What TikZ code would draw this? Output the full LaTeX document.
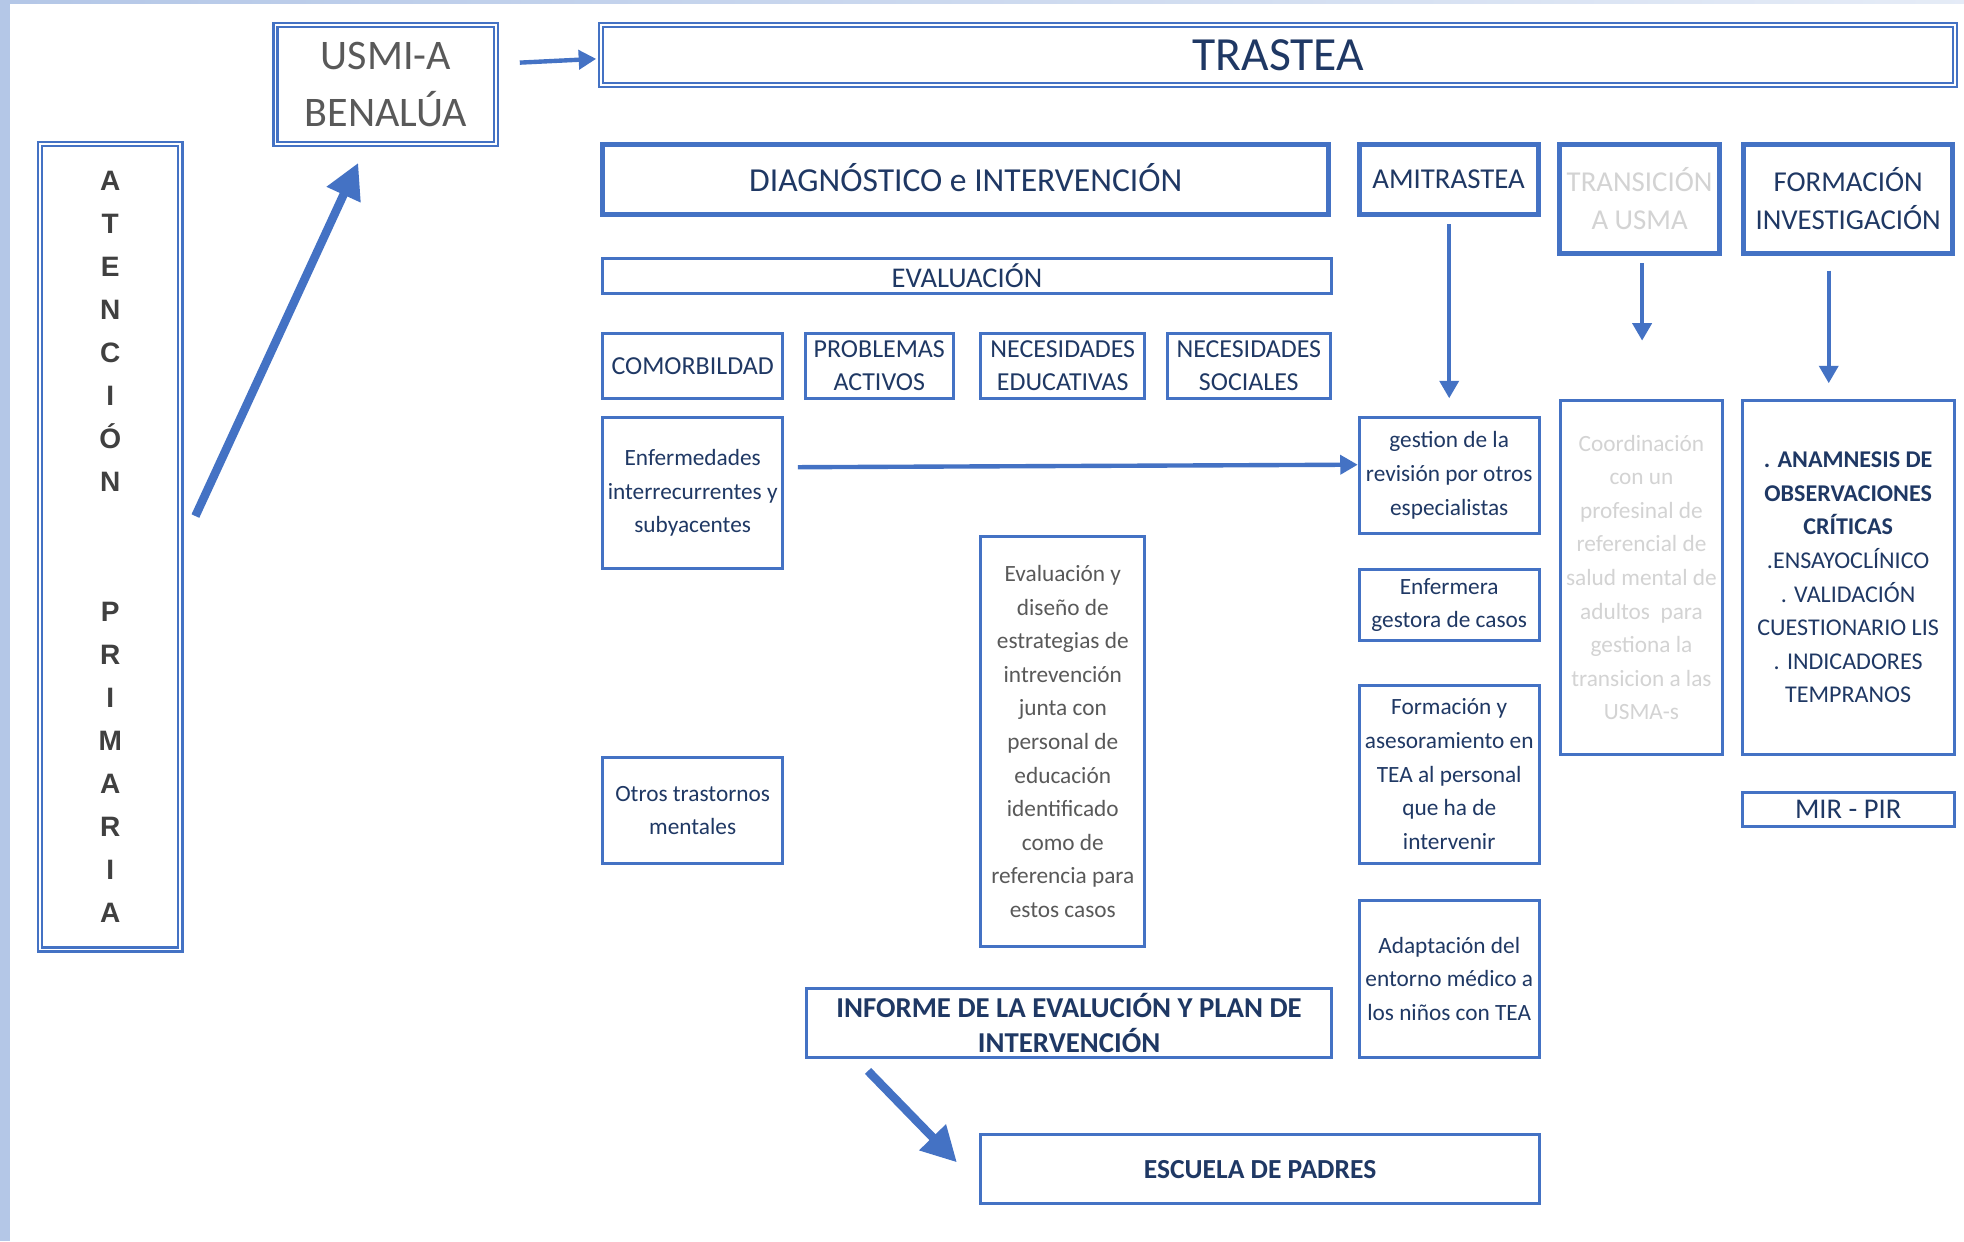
\documentclass[tikz,border=0pt]{standalone}
\usepackage{fontspec}
\setmainfont{Carlito}
\newfontfamily\apfont{Liberation Sans}
\usetikzlibrary{arrows.meta,calc}
\definecolor{bl}{HTML}{4472C4}
\definecolor{navy}{HTML}{1F3864}
\definecolor{gr}{HTML}{595959}
\definecolor{dg}{HTML}{404040}
\definecolor{lg}{HTML}{D3D3D3}
\definecolor{stripe}{HTML}{B4C7E7}
\newcommand\fsmall{\fontsize{9.3}{13.4}\selectfont}
\newcommand\fcap{\fontsize{10.35}{13.5}\selectfont}
\newcommand\fhead{\fontsize{11.5}{15}\selectfont}
\newcommand\mybox[7]{%
  \pgfmathsetmacro\bw{(#4-#2)*0.5}%
  \pgfmathsetmacro\bh{(#5-#3)*0.5}%
  \node[#6, minimum width=\bw pt, minimum height=\bh pt] (#1) at ({(#2+#4)/2},{(#3+#5)/2}) {#7};}
\tikzset{
  base/.style={draw=bl, rectangle, inner sep=0pt, outer sep=0pt, align=center, text=navy},
  thinbox/.style={base, line width=1.2pt},
  thickbox/.style={base, line width=2pt},
  dblbox/.style={base, double=white, line width=0.9pt, double distance=0.7pt},
  arr/.style={draw=bl, line width=1.75pt, -{Triangle[length=7pt,width=7.5pt]}},
  bigarr/.style={draw=bl, line width=3.4pt, -{Triangle[length=14pt,width=14pt]}},
}
\begin{document}
\begin{tikzpicture}[x=0.5pt,y=-0.5pt]
\useasboundingbox (0,0) rectangle (1568,991);
\fill[white] (0,0) rectangle (1568,991);
\fill[stripe] (0,0) rectangle (8,991);
\shade[left color=stripe, right color=stripe!35] (8,0) rectangle (1568,2.5);

% top row
\mybox{usmi}{220}{20}{396}{115}{dblbox, text=gr, font=\fontsize{16.8}{22.5}\selectfont}{USMI-A\\BENALÚA}
\mybox{trastea}{480}{20}{1561}{68}{dblbox, font=\fontsize{19}{22}\selectfont}{TRASTEA}
\mybox{ap}{32}{115}{144}{758}{dblbox, text=dg, font=\apfont\bfseries\fontsize{11.2}{17.2}\selectfont}{A\\T\\E\\N\\C\\I\\Ó\\N\\~\\~\\P\\R\\I\\M\\A\\R\\I\\A}

% header boxes
\mybox{diag}{481}{115}{1061}{171}{thickbox, font=\fontsize{13.4}{16}\selectfont}{\raisebox{1pt}{DIAGNÓSTICO e INTERVENCIÓN}}
\mybox{amit}{1085}{115}{1228}{171}{thickbox, font=\fhead}{AMITRASTEA}
\mybox{trans}{1245}{115}{1373}{202}{thickbox, text=lg, font=\fhead}{TRANSICIÓN\\A USMA}
\mybox{form}{1392}{115}{1559}{202}{thickbox, font=\fhead}{FORMACIÓN\\INVESTIGACIÓN}

% evaluation column
\mybox{eval}{481}{206}{1063}{234}{thinbox, font=\fontsize{11.4}{14}\selectfont}{EVALUACIÓN}
\mybox{comor}{481}{266}{625}{318}{thinbox, font=\fcap}{COMORBILDAD}
\mybox{prob}{643}{266}{761}{318}{thinbox, font=\fcap}{PROBLEMAS\\ACTIVOS}
\mybox{nedu}{783}{266}{914}{318}{thinbox, font=\fcap}{NECESIDADES\\EDUCATIVAS}
\mybox{nsoc}{932}{266}{1062}{318}{thinbox, font=\fcap}{NECESIDADES\\SOCIALES}
\mybox{enf}{481}{333}{625}{454}{thinbox, font=\fsmall}{Enfermedades\\interrecurrentes y\\subyacentes}
\mybox{evdis}{783}{428}{914}{756}{thinbox, text=gr, font=\fsmall}{Evaluación y\\diseño de\\estrategias de\\intrevención\\junta con\\personal de\\educación\\identificado\\como de\\referencia para\\estos casos}
\mybox{otros}{481}{605}{625}{689}{thinbox, font=\fsmall}{Otros trastornos\\mentales}
\mybox{inf}{644}{789}{1063}{844}{thinbox, font=\bfseries\fontsize{11.5}{14}\selectfont}{INFORME DE LA EVALUCIÓN Y PLAN DE\\INTERVENCIÓN}
\mybox{esc}{783}{906}{1229}{961}{thinbox, font=\bfseries\fontsize{11}{14}\selectfont}{ESCUELA DE PADRES}

% AMITRASTEA column
\mybox{gest}{1085}{333}{1229}{426}{thinbox, font=\fsmall}{gestion de la\\revisión por otros\\especialistas}
\mybox{enfg}{1085}{455}{1229}{511}{thinbox, font=\fsmall}{Enfermera\\gestora de casos}
\mybox{fase}{1085}{547}{1229}{689}{thinbox, font=\fsmall}{Formación y\\asesoramiento en\\TEA al personal\\que ha de\\intervenir}
\mybox{adap}{1085}{719}{1229}{844}{thinbox, font=\fsmall}{Adaptación del\\entorno médico a\\los niños con TEA}

% transition column
\mybox{coord}{1246}{320}{1375}{602}{thinbox, text=lg, font=\fsmall}{Coordinación\\con un\\profesinal de\\referencial de\\salud mental de\\adultos\ \ para\\gestiona la\\transicion a las\\USMA-s}

% formation column
\mybox{anam}{1391}{320}{1560}{602}{thinbox, font=\fontsize{9.6}{13.4}\selectfont}{\textbf{. ANAMNESIS DE}\\\textbf{OBSERVACIONES}\\\textbf{CRÍTICAS}\\.ENSAYOCLÍNICO\\. VALIDACIÓN\\CUESTIONARIO LIS\\. INDICADORES\\TEMPRANOS}
\mybox{mir}{1391}{633}{1560}{660}{thinbox, font=\fontsize{11.4}{14}\selectfont}{MIR - PIR}

% connectors
\draw[arr] ($(usmi.east)+(19,-17.5)$) -- ($(trastea.west)+(-4,3)$);
\draw[bigarr] ($(ap.east)+(12,-24.5)$) -- ($(usmi.south)+(-22,15)$);
\draw[arr] ($(enf.east)+(12,-20.5)$) -- ($(gest.west)+(-1,-8.5)$);
\draw[arr] ($(amit.south)+(0.5,8)$) -- ($(gest.north)+(0,-15)$);
\draw[arr] ($(trans.south)+(2,8)$) -- ($(coord.north)+(0.5,-48)$);
\draw[arr] ($(form.south)+(-15.5,14)$) -- ($(anam.north)+(-15.5,-14)$);
\draw[bigarr] ($(inf.south west)+(49,11)$) -- ($(esc.west)+(-19,-5.5)$);
\end{tikzpicture}
\end{document}
